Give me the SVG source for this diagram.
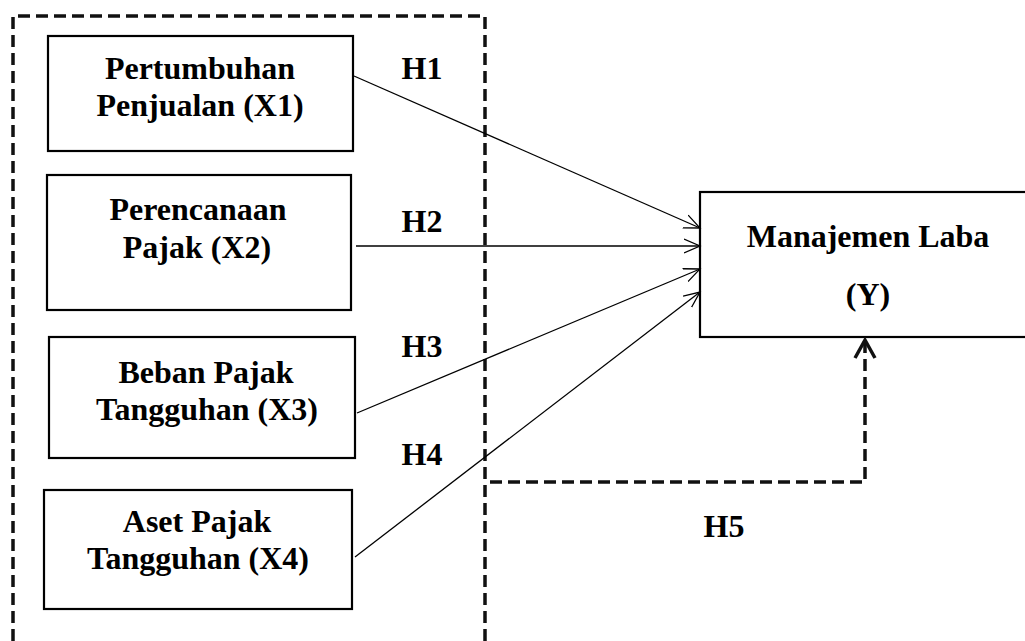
<svg xmlns="http://www.w3.org/2000/svg" width="1025" height="641" viewBox="0 0 1025 641">
<style>
.box{fill:#fff;stroke:#000;stroke-width:2.2}
.t{font-family:"Liberation Serif","Times New Roman",serif;font-weight:bold;font-size:32px;fill:#000;text-anchor:middle}
.c{stroke:#000;stroke-width:1.3;fill:none}
.d{stroke:#111;stroke-width:3.5;fill:none;stroke-dasharray:12 6}
</style>
<defs>
<marker id="arr" markerUnits="userSpaceOnUse" markerWidth="20" markerHeight="20" refX="16" refY="8" orient="auto">
<path d="M0,1 L16,8 L0,15" fill="none" stroke="#000" stroke-width="1.3"/>
</marker>
</defs>
<g id="frame">
<path class="d" d="M13,641 L13,16 L485,16 L485,641"/>
</g>
<g id="x1"><rect class="box" x="48" y="36" width="305" height="115"/>
<text class="t" x="200" y="79">Pertumbuhan</text><text class="t" x="200" y="116">Penjualan (X1)</text></g>
<g id="x2"><rect class="box" x="47" y="175" width="304" height="135"/>
<text class="t" x="198" y="220">Perencanaan</text><text class="t" x="197" y="258">Pajak (X2)</text></g>
<g id="x3"><rect class="box" x="49" y="337" width="306" height="121"/>
<text class="t" x="206" y="383">Beban Pajak</text><text class="t" x="207" y="420">Tangguhan (X3)</text></g>
<g id="x4"><rect class="box" x="44" y="490" width="308" height="119"/>
<text class="t" x="197" y="532">Aset Pajak</text><text class="t" x="198" y="569">Tangguhan (X4)</text></g>
<g id="y"><rect class="box" x="700" y="192" width="340" height="145"/>
<text class="t" x="868" y="247">Manajemen Laba</text><text class="t" x="868" y="305">(Y)</text></g>
<g id="connectors">
<line class="c" x1="354" y1="76" x2="700" y2="228" marker-end="url(#arr)"/>
<line class="c" x1="356" y1="246" x2="700" y2="246" marker-end="url(#arr)"/>
<line class="c" x1="357" y1="413" x2="700" y2="269" marker-end="url(#arr)"/>
<line class="c" x1="355" y1="557" x2="700" y2="292" marker-end="url(#arr)"/>
<path class="d" d="M490,482 L865,482 L865,342"/>
<path d="M855,358 L865,340 L875,358" fill="none" stroke="#111" stroke-width="3.5"/>
</g>
<g id="labels">
<text class="t" x="422" y="79">H1</text>
<text class="t" x="422" y="232">H2</text>
<text class="t" x="422" y="357">H3</text>
<text class="t" x="422" y="465">H4</text>
<text class="t" x="724" y="537">H5</text>
</g>
</svg>
